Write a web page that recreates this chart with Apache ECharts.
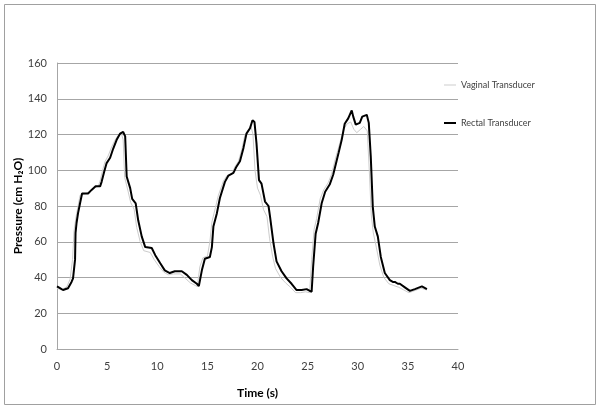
<!DOCTYPE html>
<html>
<head>
<meta charset="utf-8">
<script src="https://cdn.jsdelivr.net/npm/echarts@6/dist/echarts.min.js"></script>
<style>
  html, body { margin: 0; padding: 0; background: #fff; }
  #chart { width: 600px; height: 411px; }
</style>
</head>
<body>
<div id="chart"></div>
<script>
  // time in seconds, pressure in cm H2O
  var rectalTime = [0, 0.3, 0.6, 1.1, 1.45, 1.6, 1.8, 1.85, 1.95, 2.1, 2.3, 2.5, 3.1, 3.45, 3.85, 4.3, 4.45, 4.7, 4.95, 5.3,
    5.6, 5.95, 6.3, 6.6, 6.8, 6.95, 7.3, 7.5, 7.85, 8.1, 8.45, 8.8, 9.45, 9.8, 10.3, 10.75, 11.25, 11.75, 12.45, 12.95,
    13.45, 13.95, 14.15, 14.45, 14.75, 15.25, 15.45, 15.6, 15.95, 16.25, 16.75, 17.1, 17.6, 17.9, 18.25, 18.6, 18.9, 19.25, 19.5, 19.7,
    19.9, 20.15, 20.4, 20.75, 21.1, 21.25, 21.6, 21.9, 22.4, 22.9, 23.4, 23.9, 24.4, 24.9, 25.4, 25.55, 25.8, 26.05, 26.4, 26.75,
    27.2, 27.55, 27.9, 28.1, 28.4, 28.7, 29.05, 29.4, 29.55, 29.8, 30.2, 30.45, 30.9, 31.1, 31.3, 31.5, 31.7, 32.0, 32.3, 32.7,
    33.2, 33.5, 33.7, 34.0, 34.2, 34.7, 35.2, 35.7, 36.4, 36.9];
  var rectalPressure = [35, 34, 33, 34, 37.5, 39.5, 50, 65, 70.5, 76, 81.5, 87, 87, 89, 91, 91, 93.5, 99, 104, 107,
    112, 117, 120.5, 121.5, 119, 96.5, 90, 84, 81.5, 72, 63, 57, 56.5, 52.5, 48, 44, 42.5, 43.5, 43.5, 41.5,
    38.5, 36.5, 35.2, 44, 50.5, 51.5, 57, 68.5, 76, 84.5, 93.5, 97, 98.5, 102, 105, 112.5, 120.5, 123.5, 128, 127,
    115, 94.5, 92.5, 82.5, 80, 74, 59, 49, 43.5, 39.5, 36.5, 33, 33, 33.5, 32, 46, 64.5, 70.5, 81.5, 88,
    92, 97.5, 105.5, 110, 117, 126, 129, 133.5, 130, 125.5, 126.5, 130, 131, 126.5, 107.5, 79.5, 68.5, 63, 51.5, 42.5,
    38.5, 37.5, 37.5, 36.5, 36.5, 34.5, 32.5, 33.5, 35, 33.5];

  var vaginalTime = [0, 0.5, 1.0, 1.3, 1.55, 1.7, 1.9, 2.1, 2.3, 2.9, 3.3, 3.7, 4.1, 4.3, 4.55, 4.8, 5.1, 5.45, 5.8, 6.1,
    6.4, 6.6, 6.75, 7.1, 7.35, 7.7, 7.95, 8.3, 8.65, 9.3, 9.7, 10.2, 10.65, 11.1, 11.6, 12.3, 12.8, 13.3, 13.8, 14.0,
    14.25, 14.55, 15.0, 15.25, 15.45, 15.8, 16.1, 16.6, 16.95, 17.45, 17.75, 18.1, 18.45, 18.75, 19.1, 19.35, 19.55, 19.75, 20.0, 20.3,
    20.6, 20.95, 21.2, 21.5, 21.8, 22.3, 22.8, 23.3, 23.8, 24.3, 24.8, 25.2, 25.4, 25.65, 25.9, 26.25, 26.6, 27.05, 27.4, 27.75,
    28.0, 28.3, 28.6, 28.95, 29.3, 29.6, 29.9, 30.3, 30.6, 30.95, 31.15, 31.35, 31.55, 31.85, 32.2, 32.6, 33.1, 33.6, 34.1, 34.6,
    35.1, 35.6, 36.3, 36.9];
  var vaginalPressure = [34, 33, 35, 39, 50, 66, 74, 80, 86, 87, 88, 90, 91, 94, 100, 105, 108, 113, 117, 119.5,
    121, 117, 96, 88, 82, 78, 68, 60, 55, 54, 50, 46, 43, 41.5, 42, 42, 39.5, 37, 35.5, 35,
    46, 51, 52, 60, 71, 79, 86, 94, 97, 98, 102, 105, 112, 120, 122, 124.5, 120, 100, 90, 86,
    78, 74, 62, 52, 45, 40, 37, 34.5, 31.5, 31.5, 32, 31.5, 50, 67, 73, 84, 89, 93, 98, 106,
    111, 117, 123, 126, 127, 123, 121, 123, 124.5, 122, 100, 75, 65, 57, 47, 40, 36.5, 35.5, 34.5, 33,
    31.5, 32.5, 34, 33];

  function pairs(xs, ys) {
    var out = [];
    for (var i = 0; i < xs.length; i++) out.push([xs[i], ys[i]]);
    return out;
  }

  var chart = echarts.init(document.getElementById('chart'));
  var font = 'Lato, "Open Sans", sans-serif';

  var option = {
    animation: false,
    backgroundColor: '#fff',
    textStyle: { fontFamily: font },
    graphic: [{
      type: 'rect',
      shape: { x: 4.5, y: 4.5, width: 591, height: 400 },
      style: { fill: 'none', stroke: '#a0a0a0', lineWidth: 1 },
      silent: true
    }],
    grid: { left: 57, right: 142, top: 63, bottom: 62, outerBoundsMode: 'none', containLabel: false },
    legend: {
      orient: 'vertical',
      left: 439,
      top: 75,
      itemGap: 28,
      itemWidth: 12,
      itemHeight: 10,
      textStyle: { fontSize: 9, color: '#404040', fontFamily: font },
      data: [
        // thin / thick line swatches; the lone M points keep the 10px box
        { name: 'Vaginal Transducer', icon: 'path://M0,0 M0,4.5 L12,4.5 L12,5.5 L0,5.5 Z M12,10' },
        { name: 'Rectal Transducer', icon: 'path://M0,0 M0,4 L12,4 L12,6 L0,6 Z M12,10' }
      ]
    },
    xAxis: {
      type: 'value',
      min: 0,
      max: 40,
      interval: 5,
      name: 'Time (s)',
      nameLocation: 'middle',
      nameGap: 38,
      nameMoveOverlap: false,
      nameTextStyle: { fontSize: 12, fontWeight: 'bold', color: '#000' },
      axisLine: { show: true, lineStyle: { color: '#a6a6a6' } },
      axisTick: { show: false },
      axisLabel: { fontSize: 11, color: '#404040', margin: 12 },
      splitLine: { show: false }
    },
    yAxis: {
      type: 'value',
      min: 0,
      max: 160,
      interval: 20,
      name: 'Pressure (cm H\u2082O)',
      nameLocation: 'middle',
      nameGap: 33,
      nameMoveOverlap: false,
      nameTextStyle: { fontSize: 12, fontWeight: 'bold', color: '#000' },
      axisLine: { show: true, lineStyle: { color: '#a6a6a6' } },
      axisTick: { show: false },
      axisLabel: { fontSize: 11, color: '#404040', margin: 10 },
      splitLine: { show: true, lineStyle: { color: '#a6a6a6', width: 1 } }
    },
    series: [
      {
        name: 'Vaginal Transducer',
        type: 'line',
        symbol: 'none',
        data: pairs(vaginalTime, vaginalPressure),
        lineStyle: { color: '#cccccc', width: 1 },
        itemStyle: { color: '#cccccc' }
      },
      {
        name: 'Rectal Transducer',
        type: 'line',
        symbol: 'none',
        data: pairs(rectalTime, rectalPressure),
        lineStyle: { color: '#000', width: 2 },
        itemStyle: { color: '#000' }
      }
    ]
  };

  chart.setOption(option);
</script>
</body>
</html>
